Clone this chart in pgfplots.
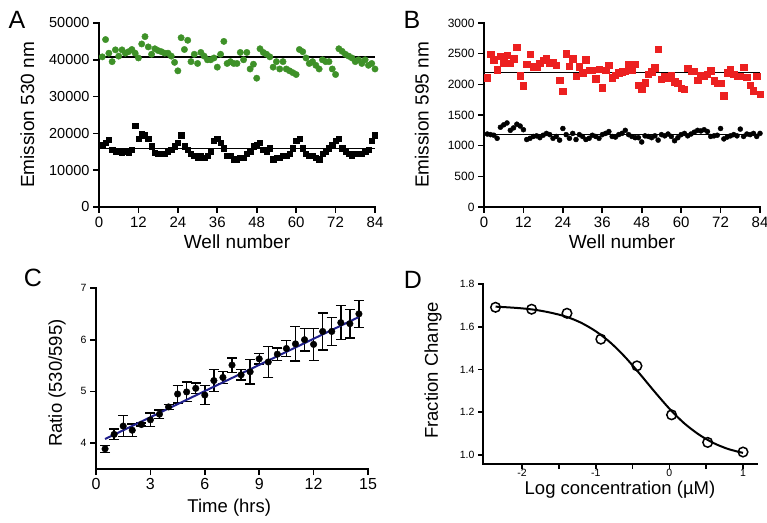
\documentclass[border=0pt]{standalone}
\usepackage{fontspec}
\setmainfont{Liberation Sans}
\usepackage{pgfplots}
\pgfplotsset{compat=1.18}
\usepackage{pgfplotstable}

\definecolor{ptgreen}{RGB}{62,145,40}
\definecolor{ptred}{RGB}{236,32,32}
\definecolor{fitblue}{RGB}{32,32,140}

% panel A: emission 530 nm
\pgfplotstableread{
x y
1 40800
2 45500
3 41800
4 39500
5 42700
6 41000
7 42700
8 41800
9 42200
10 42800
11 41800
12 40500
13 44300
14 46300
15 43500
16 41500
17 43000
18 42500
19 42200
20 41800
21 41800
22 41000
23 39300
24 37000
25 46000
26 42800
27 45300
28 39500
29 41500
30 39000
31 42000
32 41000
33 40000
34 40000
35 40500
36 38000
37 41500
38 45000
39 39000
40 39500
41 39000
42 39000
43 42000
44 40000
45 42000
46 37500
47 38800
48 35000
49 43000
50 42000
51 41500
52 40800
53 38000
54 39500
55 37500
56 39500
57 37500
58 37000
59 36500
60 36000
61 42800
62 42200
63 40500
64 39000
65 39500
66 38500
67 37500
68 40000
69 39500
70 39500
71 37500
72 36000
73 43000
74 42300
75 41500
76 41000
77 40500
78 39500
79 40000
80 39000
81 40000
82 38500
83 39000
84 37500
}\agreen

\pgfplotstableread{
x y
1 17000
2 17500
3 18200
4 15500
5 15000
6 15000
7 14800
8 15000
9 14800
10 15500
11 22000
12 18500
13 20000
14 19500
15 18500
16 16500
17 14800
18 14500
19 14500
20 14500
21 15000
22 15500
23 16500
24 17500
25 19500
26 16500
27 15500
28 14500
29 14000
30 13500
31 14000
32 13500
33 14000
34 15000
35 18000
36 18500
37 17500
38 16000
39 14000
40 14000
41 13000
42 13000
43 13500
44 13500
45 14500
46 15000
47 16500
48 17000
49 17500
50 15500
51 15000
52 16000
53 13000
54 13500
55 13500
56 14000
57 14000
58 14500
59 16000
60 18000
61 18500
62 16000
63 14500
64 14000
65 14000
66 13500
67 13000
68 14500
69 15000
70 16000
71 17000
72 18000
73 18500
74 16000
75 15000
76 14500
77 14000
78 14500
79 14500
80 14500
81 15000
82 15500
83 18000
84 19500
}\ablack

% panel B: emission 595 nm
\pgfplotstableread{
x y
1 2107
2 2490
3 2400
4 2240
5 2460
6 2350
7 2475
8 2340
9 2420
10 2610
11 2140
12 1975
13 2330
14 2490
15 2285
16 2285
17 2340
18 2395
19 2420
20 2340
21 2350
22 2310
23 2070
24 1890
25 2500
26 2300
27 2420
28 2135
29 2285
30 2190
31 2400
32 2230
33 2230
34 2095
35 2250
36 1945
37 2230
38 2310
39 2105
40 2150
41 2190
42 2205
43 2215
44 2330
45 2240
46 2330
47 1990
48 1920
49 2025
50 2165
51 2205
52 2270
53 2570
54 2080
55 2135
56 2110
57 2150
58 2040
59 2015
60 1935
61 1920
62 2260
63 2215
64 2215
65 2070
66 2150
67 2135
68 2165
69 2220
70 2060
71 2015
72 2015
73 1815
74 2190
75 2240
76 2165
77 2135
78 2135
79 2275
80 2120
81 1990
82 1895
83 2135
84 1835
}\bred

\pgfplotstableread{
x y
1 1190
2 1180
3 1170
4 1120
5 1300
6 1340
7 1370
8 1250
9 1290
10 1350
11 1320
12 1260
13 1100
14 1120
15 1150
16 1160
17 1130
18 1170
19 1200
20 1180
21 1120
22 1150
23 1090
24 1280
25 1180
26 1120
27 1200
28 1100
29 1180
30 1150
31 1100
32 1120
33 1170
34 1150
35 1120
36 1180
37 1200
38 1230
39 1150
40 1140
41 1180
42 1200
43 1250
44 1180
45 1150
46 1130
47 1130
48 1060
49 1160
50 1150
51 1130
52 1160
53 1090
54 1180
55 1160
56 1190
57 1150
58 1080
59 1130
60 1180
61 1200
62 1160
63 1190
64 1220
65 1250
66 1240
67 1260
68 1230
69 1150
70 1160
71 1170
72 1280
73 1110
74 1140
75 1160
76 1180
77 1160
78 1270
79 1150
80 1190
81 1180
82 1200
83 1150
84 1200
}\bblack

% panel C: ratio over time
\pgfplotstableread{
t r e
0.5 3.89 0.07
1.0 4.17 0.10
1.5 4.33 0.20
2.0 4.25 0.12
2.5 4.36 0.03
3.0 4.45 0.13
3.5 4.56 0.08
4.0 4.70 0.05
4.5 4.95 0.17
5.0 4.99 0.19
5.5 5.06 0.10
6.0 4.93 0.18
6.5 5.21 0.21
7.0 5.27 0.12
7.5 5.51 0.14
8.0 5.32 0.10
8.5 5.38 0.24
9.0 5.63 0.10
9.5 5.57 0.30
10.0 5.72 0.12
10.5 5.83 0.15
11.0 5.92 0.33
11.5 6.00 0.22
12.0 5.91 0.31
12.5 6.16 0.36
13.0 6.16 0.27
13.5 6.33 0.33
14.0 6.31 0.28
14.5 6.50 0.26
}\cratio

% panel D: dose response and fitted curve
\pgfplotstableread{
x y
-2.36 1.691
-1.87 1.682
-1.39 1.663
-0.93 1.542
-0.44 1.417
0.03 1.188
0.52 1.059
1.00 1.014
}\dpts

\pgfplotstableread{
x y
-2.36 1.694
-2.2 1.691
-2.0 1.686
-1.8 1.678
-1.6 1.665
-1.4 1.647
-1.2 1.619
-1.0 1.579
-0.8 1.526
-0.6 1.458
-0.4 1.379
-0.2 1.296
0.0 1.217
0.2 1.149
0.4 1.096
0.6 1.056
0.8 1.028
1.0 1.010
}\dfit

\pgfplotsset{
  prism/.style={
    scale only axis, anchor=south west, clip=false,
    axis lines*=left,
    axis line style={line width=2pt, line cap=rect},
    tick align=outside, major tick length=6pt, minor tick length=6pt,
    tick style={line width=1.6pt, black},
    /pgf/number format/assume math mode=true,
    /pgf/number format/1000 sep={},
    scaled ticks=false,
  }
}

\begin{document}
\begin{tikzpicture}
\useasboundingbox (0,0) rectangle (767pt,522pt);

% A
\begin{axis}[prism, at={(99pt,315pt)}, width=276pt, height=184pt,
  xmin=0, xmax=84, ymin=0, ymax=50000,
  xtick={0,12,...,84}, ytick={0,10000,...,50000},
  xticklabel style={font=\fontsize{15}{16}\selectfont},
  yticklabel style={font=\fontsize{14.5}{16}\selectfont},
  xlabel={Well number}, ylabel={Emission 530 nm},
  xlabel style={at={(rel axis cs:0.5,-0.19)}, anchor=center, font=\fontsize{19}{21}\selectfont},
  ylabel style={at={(rel axis cs:-0.26,0.5)}, anchor=center, font=\fontsize{19}{21}\selectfont}]
\addplot[only marks, mark=*, mark size=3.2pt, ptgreen, mark options={draw=none, fill=ptgreen}] table {\agreen};
\addplot[only marks, mark=square*, mark size=2.6pt, black] table {\ablack};
\addplot[line width=1.3pt, black] coordinates {(0,40800) (84,40800)};
\addplot[line width=1.3pt, black] coordinates {(0,15900) (84,15900)};
\end{axis}

% B
\begin{axis}[prism, at={(484pt,315pt)}, width=276pt, height=184pt,
  xmin=0, xmax=84, ymin=0, ymax=3000,
  xtick={0,12,...,84}, ytick={0,500,...,3000},
  xticklabel style={font=\fontsize{15}{16}\selectfont},
  yticklabel style={font=\fontsize{12}{14}\selectfont},
  xlabel={Well number}, ylabel={Emission 595 nm},
  xlabel style={at={(rel axis cs:0.5,-0.19)}, anchor=center, font=\fontsize{19}{21}\selectfont},
  ylabel style={at={(rel axis cs:-0.225,0.5)}, anchor=center, font=\fontsize{19}{21}\selectfont}]
\addplot[only marks, mark=square*, mark size=3.2pt, ptred, mark options={draw=none, fill=ptred}] table {\bred};
\addplot[only marks, mark=*, mark size=2.5pt, black] table {\bblack};
\addplot[line width=1.3pt, black] coordinates {(0,2195) (84,2195)};
\addplot[line width=1.3pt, black] coordinates {(0,1180) (84,1180)};
\end{axis}

% C
\begin{axis}[prism, at={(96pt,53pt)}, width=272pt, height=181pt,
  xmin=0, xmax=15, ymin=3.5, ymax=7,
  xtick={0,3,...,15}, ytick={4,5,6,7},
  xticklabel style={font=\fontsize{16}{18}\selectfont},
  yticklabel style={font=\fontsize{10.5}{12}\selectfont},
  xlabel={Time (hrs)}, ylabel={Ratio (530/595)},
  xlabel style={at={(rel axis cs:0.49,-0.215)}, anchor=center, font=\fontsize{18.5}{20}\selectfont},
  ylabel style={at={(rel axis cs:-0.143,0.475)}, anchor=center, font=\fontsize{18.5}{20}\selectfont}]
\addplot[only marks, mark=*, mark size=3.3pt, black,
  error bars/.cd, y dir=both, y explicit,
  error bar style={line width=1.4pt, black},
  error mark options={rotate=90, mark size=5pt, line width=1.4pt, black}]
  table[x=t, y=r, y error=e] {\cratio};
\addplot[line width=2pt, fitblue] coordinates {(0.5,4.08) (14.5,6.44)};
\end{axis}

% D
\begin{axis}[prism, at={(483pt,58pt)}, width=274pt, height=180pt,
  xmin=-2.53, xmax=1.19, ymin=0.958, ymax=1.8,
  xtick={-2,-1,0,1}, minor xtick={-1.5,-0.5,0.5},
  major tick length=5pt, minor tick length=5pt,
  ytick={1.0,1.2,...,1.8},
  yticklabel style={font=\fontsize{10.5}{12}\selectfont,
    /pgf/number format/.cd, fixed, fixed zerofill, precision=1},
  xticklabel style={font=\fontsize{10.5}{12}\selectfont, yshift=3pt},
  xlabel={Log concentration (\textmu M)}, ylabel={Fraction Change},
  xlabel style={at={(rel axis cs:0.5,-0.145)}, anchor=center, font=\fontsize{18.5}{20}\selectfont},
  ylabel style={at={(rel axis cs:-0.182,0.52)}, anchor=center, font=\fontsize{18.5}{20}\selectfont}]
\addplot[line width=2pt, black, smooth] table {\dfit};
\addplot[only marks, mark=o, mark size=4.8pt, black, mark options={line width=1.5pt, fill=white}] table {\dpts};
\end{axis}

% panel letters
\node[font=\fontsize{25}{26}\selectfont] at (17pt,502pt) {A};
\node[font=\fontsize{25}{26}\selectfont] at (412pt,502pt) {B};
\node[font=\fontsize{25}{26}\selectfont] at (33pt,244pt) {C};
\node[font=\fontsize{25}{26}\selectfont] at (413pt,242pt) {D};
\end{tikzpicture}
\end{document}
